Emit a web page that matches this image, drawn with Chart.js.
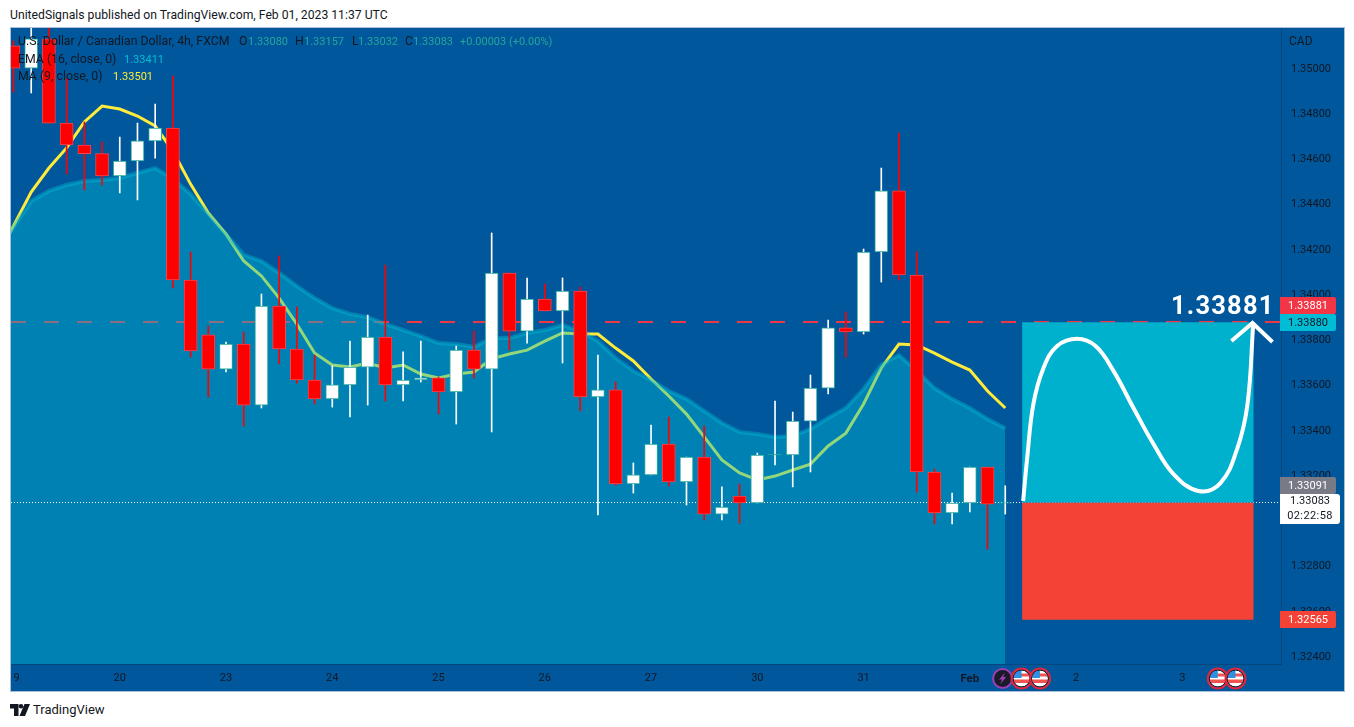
<!DOCTYPE html>
<html><head><meta charset="utf-8">
<script src="https://cdn.jsdelivr.net/npm/chart.js@4/dist/chart.umd.min.js"></script>
<style>
html,body{margin:0;padding:0;background:#fff;width:1354px;height:727px;overflow:hidden}
body,div{font-family:Roboto,sans-serif;color:#131722}
.a{position:absolute;white-space:nowrap;line-height:1}
.l{font-size:12.3px}
.v{font-size:11px;margin-top:1px}
#frame{position:absolute;left:10px;top:27px;width:1333px;height:663px;border:1px solid #a9c0d8;overflow:hidden;background:#01579b}
#frame canvas{position:absolute;left:0;top:0}
.tag{position:absolute;left:1280px;width:56px;height:17px;line-height:17px;text-align:center;font-size:11px;border-radius:0 2px 2px 0}
</style></head><body>
<div class="a" style="left:10px;top:9px;font-size:12.2px">UnitedSignals published on TradingView.com, Feb 01, 2023 11:37 UTC</div>
<div id="frame"><canvas id="c" width="1333" height="663"></canvas></div>
<div class="a l" style="left:18px;top:35px">U.S. Dollar / Canadian Dollar, 4h, FXCM</div>
<div class="a l" style="left:239px;top:35px">O</div><div class="a v" style="left:248px;top:35px;color:#26a69a">1.33080</div>
<div class="a l" style="left:295px;top:35px">H</div><div class="a v" style="left:304px;top:35px;color:#26a69a">1.33157</div>
<div class="a l" style="left:352px;top:35px">L</div><div class="a v" style="left:358px;top:35px;color:#26a69a">1.33032</div>
<div class="a l" style="left:405px;top:35px">C</div><div class="a v" style="left:413px;top:35px;color:#26a69a">1.33083</div>
<div class="a v" style="left:460px;top:35px;color:#26a69a">+0.00003 (+0.00%)</div>
<div class="a l" style="left:18px;top:53px">EMA (16, close, 0)</div>
<div class="a v" style="left:124px;top:53px;color:#00bcd4">1.33411</div>
<div class="a l" style="left:18px;top:70px">MA (9, close, 0)</div>
<div class="a v" style="left:113px;top:70px;color:#ffeb3b">1.33501</div>
<div class="a" style="left:1289px;top:35px;font-size:12px">CAD</div>
<div class="a" style="left:1171px;top:293px;font-size:25.5px;font-weight:700;color:#fff;letter-spacing:1.2px">1.33881</div>
<div class="tag" style="top:297px;background:#f23645;color:#fff">1.33881</div>
<div class="tag" style="top:314px;background:#00bcd4;color:#131722">1.33880</div>
<div class="tag" style="top:477px;background:#787b86;color:#fff">1.33091</div>
<div class="tag" style="top:611px;background:#f44336;color:#fff">1.32565</div>
<div class="a" style="left:1280px;top:494px;width:60px;height:30px;background:#fff;border-radius:0 3px 3px 0;text-align:center;font-size:11px;line-height:14.5px;white-space:normal">1.33083<br><span style="letter-spacing:.4px">02:22:58</span></div>
<svg class="a" style="left:10px;top:704px" width="20" height="12" viewBox="0 0 20 12"><path d="M0 0h8.5v12H4V4.5H0z" fill="#131722"/><circle cx="11" cy="2.3" r="2.3" fill="#131722"/><path d="M14.5 0H20l-5 12H9.5z" fill="#131722"/></svg>
<div class="a" style="left:33px;top:703px;font-size:13px">TradingView</div>
<script>
const dateLabels=['19','20','23','24','25','26','27','30','31','Feb','2','3'];
const opens=[1.35102,1.35004,1.35133,1.34761,1.34664,1.34626,1.34527,1.34593,1.34682,1.34739,1.34067,1.33824,1.33673,1.33784,1.33514,1.33952,1.33762,1.33625,1.33541,1.33603,1.33682,1.33815,1.33603,1.33625,1.33634,1.33572,1.33757,1.33673,1.34098,1.33841,1.33983,1.33930,1.34018,1.33550,1.33581,1.33165,1.33205,1.33342,1.33174,1.33284,1.33032,1.33112,1.33081,1.33293,1.33293,1.33443,1.33589,1.33855,1.33837,1.34191,1.34461,1.34089,1.33218,1.33037,1.33081,1.33240,1.33080];
const closes=[1.35004,1.35133,1.34761,1.34664,1.34626,1.34527,1.34593,1.34682,1.34739,1.34067,1.33753,1.33673,1.33784,1.33514,1.33952,1.33762,1.33625,1.33541,1.33603,1.33682,1.33815,1.33603,1.33625,1.33634,1.33572,1.33757,1.33673,1.34098,1.33841,1.33983,1.33930,1.34018,1.33550,1.33581,1.33165,1.33205,1.33342,1.33174,1.33284,1.33032,1.33063,1.33081,1.33293,1.33296,1.33443,1.33589,1.33855,1.33837,1.34191,1.34461,1.34089,1.33218,1.33037,1.33081,1.33240,1.33076,1.33083];
const highs=[1.35124,1.35250,1.35250,1.34956,1.34766,1.34677,1.34699,1.34761,1.34845,1.34969,1.34191,1.33864,1.33793,1.33837,1.34005,1.34173,1.33948,1.33735,1.33687,1.33797,1.33912,1.34133,1.33749,1.33797,1.33638,1.33775,1.33841,1.34275,1.34098,1.34076,1.34049,1.34076,1.34036,1.33735,1.33616,1.33258,1.33426,1.33461,1.33284,1.33421,1.33152,1.33165,1.33302,1.33532,1.33483,1.33647,1.33890,1.33925,1.34204,1.34562,1.34717,1.34191,1.33231,1.33125,1.33240,1.33240,1.33157];
const lows=[1.34898,1.34894,1.34761,1.34536,1.34465,1.34487,1.34452,1.34421,1.34606,1.34032,1.33726,1.33550,1.33660,1.33421,1.33501,1.33696,1.33611,1.33519,1.33505,1.33461,1.33514,1.33532,1.33532,1.33616,1.33474,1.33430,1.33634,1.33395,1.33757,1.33788,1.33930,1.33700,1.33488,1.33028,1.33160,1.33125,1.33205,1.33156,1.33072,1.33006,1.33006,1.32992,1.33081,1.33249,1.33152,1.33218,1.33563,1.33726,1.33828,1.34058,1.34067,1.33129,1.32988,1.32988,1.33041,1.32877,1.33032];
const emaValues=[1.34186,1.34301,1.34416,1.34461,1.34487,1.34505,1.34509,1.34518,1.34540,1.34562,1.34514,1.34447,1.34359,1.34270,1.34178,1.34151,1.34098,1.34040,1.33987,1.33943,1.33917,1.33903,1.33872,1.33846,1.33819,1.33788,1.33784,1.33771,1.33810,1.33810,1.33833,1.33846,1.33868,1.33841,1.33797,1.33722,1.33665,1.33625,1.33576,1.33541,1.33488,1.33435,1.33395,1.33386,1.33373,1.33377,1.33408,1.33457,1.33501,1.33585,1.33691,1.33735,1.33665,1.33589,1.33541,1.33501,1.33452,1.33411];
const maValues=[1.34155,1.34306,1.34456,1.34562,1.34651,1.34766,1.34836,1.34823,1.34792,1.34748,1.34637,1.34491,1.34363,1.34270,1.34151,1.34085,1.33987,1.33872,1.33744,1.33691,1.33682,1.33700,1.33678,1.33691,1.33651,1.33634,1.33651,1.33660,1.33718,1.33740,1.33757,1.33797,1.33833,1.33828,1.33828,1.33766,1.33709,1.33629,1.33554,1.33474,1.33373,1.33271,1.33214,1.33183,1.33200,1.33227,1.33253,1.33333,1.33390,1.33519,1.33678,1.33784,1.33780,1.33744,1.33704,1.33669,1.33576,1.33501];
const pathX=[57.01,57.24,57.59,58.16,58.93,60.06,61.10,62.11,63.24,64.37,65.50,66.91,68.15,69.11,69.68,70.00];
const pathY=[1.33090,1.33281,1.33519,1.33678,1.33775,1.33807,1.33775,1.33665,1.33501,1.33342,1.33209,1.33134,1.33169,1.33324,1.33519,1.33872];
const arrowX=[68.77,69.96,71.09];
const arrowY=[1.33797,1.33877,1.33793];
const targetPrice=1.33880, entryPrice=1.33083, stopPrice=1.32565, linePrice=1.33881;
const posStart=56.95, posEnd=70.03;
const xMin=-0.141, xMax=71.57, yMin=1.32369, yMax=1.351813;
const lightningAt=[55.85], flagsAt=[56.92,57.96,68,69];

const up=i=>closes[i]>=opens[i];
const flat=i=>Math.abs(closes[i]-opens[i])<0.00005;
const flatColor='#26a69a';
const icons={id:'icons',afterDatasetsDraw(ch){
  const c=ch.ctx,xs=ch.scales.x,yc=650.5;
  lightningAt.forEach(v=>{const x=xs.getPixelForValue(v);
    c.beginPath();c.arc(x,yc,9.5,0,7);c.fillStyle='#1a1a2a';c.fill();c.lineWidth=2;c.strokeStyle='#9c3fb5';c.stroke();
    c.fillStyle='#9c3fb5';c.beginPath();c.moveTo(x+2.5,yc-6);c.lineTo(x-3.5,yc+1);c.lineTo(x-.5,yc+1);c.lineTo(x-2.5,yc+6);c.lineTo(x+3.5,yc-1.5);c.lineTo(x+.5,yc-1.5);c.closePath();c.fill();});
  flagsAt.forEach(v=>{const x=xs.getPixelForValue(v);
    c.save();c.beginPath();c.arc(x,yc,8,0,7);c.clip();
    c.fillStyle='#fff';c.fillRect(x-9,yc-9,18,18);
    c.fillStyle='#f05350';c.fillRect(x-9,yc-5,18,3);c.fillRect(x-9,yc+1,18,3.5);
    c.fillStyle='#2f8fe0';c.fillRect(x-9,yc-9,9,8.5);c.restore();
    c.beginPath();c.arc(x,yc,8.5,0,7);c.lineWidth=1;c.strokeStyle='#131722';c.stroke();
    c.beginPath();c.arc(x,yc,10,0,7);c.lineWidth=2;c.strokeStyle='#e0273f';c.stroke();});
}};
new Chart(document.getElementById('c'),{
  type:'bar',
  plugins:[icons],
  data:{datasets:[
    {type:'line',label:'Path',data:pathX.map((x,i)=>({x,y:pathY[i]})),borderColor:'#fff',borderWidth:4,pointRadius:0,tension:0.4,fill:false,order:0},
    {type:'line',label:'Arrow',data:arrowX.map((x,i)=>({x,y:arrowY[i]})),borderColor:'#fff',borderWidth:4,pointRadius:0,tension:0,fill:false,order:0.5},
    {type:'line',label:'Target zone',data:[{x:posStart,y:targetPrice},{x:posEnd,y:targetPrice}],borderWidth:0,pointRadius:0,tension:0,backgroundColor:'#00b1ce',fill:{value:entryPrice},order:1},
    {type:'line',label:'Stop zone',data:[{x:posStart,y:stopPrice},{x:posEnd,y:stopPrice}],borderWidth:0,pointRadius:0,tension:0,backgroundColor:'#f44336',fill:{value:entryPrice},order:1},
    {label:'Body',data:opens.map((o,i)=>({x:i,y:[o,closes[i]]})),barThickness:13,grouped:false,borderSkipped:false,borderWidth:1,
      backgroundColor:opens.map((o,i)=>flat(i)?flatColor:(up(i)?'#fff':'#ff0000')),
      borderColor:opens.map((o,i)=>up(i)?'#26a69a':'#f2474f'),order:3},
    {label:'Wick',data:opens.map((o,i)=>({x:i,y:[lows[i],highs[i]]})),barThickness:1,grouped:false,borderWidth:0,
      backgroundColor:opens.map((o,i)=>up(i)?'#fff':'#ff0000'),order:4},
    {type:'line',label:'Last price',data:[{x:xMin,y:entryPrice},{x:xMax,y:entryPrice}],borderColor:'#fff',borderWidth:1,borderDash:[1,2],pointRadius:0,tension:0,fill:false,order:5},
    {type:'line',label:'EMA (16, close, 0)',data:emaValues.map((y,i)=>({x:i-1,y})),borderColor:'rgba(0,188,212,0.42)',borderWidth:4,backgroundColor:'rgba(0,188,212,0.42)',pointRadius:0,tension:0,fill:'start',order:6},
    {type:'line',label:'MA (9, close, 0)',data:maValues.map((y,i)=>({x:i-1,y})),borderColor:'#ffeb3b',borderWidth:3,pointRadius:0,tension:0,fill:false,order:7},
    {type:'line',label:'Alert line',data:[{x:xMin,y:linePrice},{x:xMax,y:linePrice}],borderColor:'#f23645',borderWidth:2,borderDash:[15,18],pointRadius:0,tension:0,fill:false,order:8}
  ]},
  options:{
    responsive:false,maintainAspectRatio:false,animation:false,devicePixelRatio:1,
    layout:{padding:0},
    plugins:{legend:{display:false},tooltip:{enabled:false},title:{display:false}},
    events:[],
    scales:{
      x:{type:'linear',offset:false,min:xMin,max:xMax,
        grid:{display:false,drawTicks:false},border:{display:true,color:'rgba(19,23,34,0.25)'},
        afterFit(s){s.height=27;s.paddingLeft=0;s.paddingRight=0},
        ticks:{stepSize:6,autoSkip:false,maxRotation:0,minRotation:0,includeBounds:false,padding:8,color:'#131722',
          font:ctx=>({family:'Roboto',size:ctx.tick&&ctx.tick.value===54?11.5:11,weight:ctx.tick&&ctx.tick.value===54?'700':'400'}),
          callback:v=>dateLabels[v/6]??''}},
      y:{type:'linear',position:'right',min:yMin,max:yMax,
        grid:{display:false,drawTicks:false},border:{display:true,color:'rgba(19,23,34,0.25)'},
        afterFit(s){s.width=63;s.paddingTop=0;s.paddingBottom=0},
        ticks:{stepSize:0.002,autoSkip:false,includeBounds:false,padding:10,color:'#131722',font:{family:'Roboto',size:11},
          callback:v=>v.toFixed(5)}}
    }
  }
});
</script>
</body></html>
